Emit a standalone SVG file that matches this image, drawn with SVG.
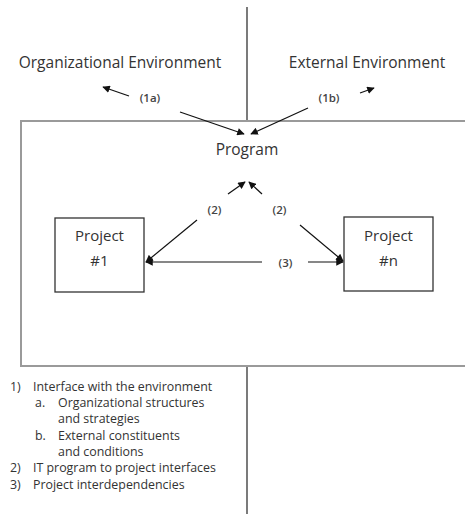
<svg xmlns="http://www.w3.org/2000/svg" width="465" height="514" viewBox="0 0 465 514">
<style>
text{font-family:"Open Sans","Liberation Sans",sans-serif;fill:#333}
.t{font-size:15.5px}
.b{font-size:15px}
.l{font-size:11.5px;font-weight:600;fill:#444}
.g{font-size:12.4px}
.c{stroke:#111;stroke-width:1.2;fill:none}
.box{fill:#fff;stroke:#333;stroke-width:1.3}
</style>
<defs>
<marker id="ah" viewBox="0 0 10 10" refX="9" refY="5" markerWidth="8" markerHeight="7.5" markerUnits="userSpaceOnUse" orient="auto">
<path d="M0,0 L10,5 L0,10 z" fill="#111"/>
</marker>
</defs>
<rect width="465" height="514" fill="#fff"/>
<g id="program">
<rect x="21" y="121" width="460" height="245" fill="none" stroke="#9a9a9a" stroke-width="2"/>
<text class="t" x="247" y="155" text-anchor="middle">Program</text>
</g>
<g id="dividers">
<line x1="247" y1="7" x2="247" y2="120" stroke="#222" stroke-width="1.2"/>
<line x1="247" y1="367" x2="247" y2="514" stroke="#222" stroke-width="1.2"/>
</g>
<g id="org-env"><text class="t" x="120" y="68" text-anchor="middle">Organizational Environment</text></g>
<g id="ext-env"><text class="t" x="367" y="68" text-anchor="middle">External Environment</text></g>
<g id="project1">
<rect class="box" x="55" y="218" width="89" height="74"/>
<text class="b" x="99.5" y="241" text-anchor="middle">Project</text>
<text class="b" x="99.5" y="266" text-anchor="middle">#1</text>
</g>
<g id="projectn">
<rect class="box" x="344" y="217" width="89" height="74"/>
<text class="b" x="388.5" y="241" text-anchor="middle">Project</text>
<text class="b" x="388.5" y="266" text-anchor="middle">#n</text>
</g>
<g id="connectors">
<line class="c" x1="129" y1="96" x2="103" y2="87" marker-end="url(#ah)"/>
<line class="c" x1="360" y1="93" x2="374" y2="88" marker-end="url(#ah)"/>
<line class="c" x1="180" y1="112" x2="244" y2="134" marker-end="url(#ah)"/>
<line class="c" x1="308" y1="108" x2="251" y2="134" marker-end="url(#ah)"/>
<line class="c" x1="228" y1="194" x2="245" y2="182" marker-end="url(#ah)"/>
<line class="c" x1="262" y1="194" x2="249" y2="182" marker-end="url(#ah)"/>
<line class="c" x1="197" y1="220" x2="146" y2="262" marker-end="url(#ah)"/>
<line class="c" x1="300" y1="225" x2="343" y2="261" marker-end="url(#ah)"/>
<line class="c" x1="262" y1="262" x2="146" y2="262" marker-end="url(#ah)"/>
<line class="c" x1="308" y1="262" x2="343" y2="262" marker-end="url(#ah)"/>
<text class="l" x="150" y="102" text-anchor="middle">(1a)</text>
<text class="l" x="329" y="102" text-anchor="middle">(1b)</text>
<text class="l" x="214.5" y="214" text-anchor="middle">(2)</text>
<text class="l" x="279.5" y="214" text-anchor="middle">(2)</text>
<text class="l" x="285.5" y="267" text-anchor="middle">(3)</text>
</g>
<g id="legend">
<text class="g" x="10" y="390.5">1)</text>
<text class="g" x="33" y="390.5">Interface with the environment</text>
<text class="g" x="35" y="407">a.</text>
<text class="g" x="58" y="407">Organizational structures</text>
<text class="g" x="58" y="423">and strategies</text>
<text class="g" x="35" y="439.5">b.</text>
<text class="g" x="58" y="439.5">External constituents</text>
<text class="g" x="58" y="456">and conditions</text>
<text class="g" x="10" y="472">2)</text>
<text class="g" x="33" y="472">IT program to project interfaces</text>
<text class="g" x="10" y="489">3)</text>
<text class="g" x="33" y="489">Project interdependencies</text>
</g>
</svg>
